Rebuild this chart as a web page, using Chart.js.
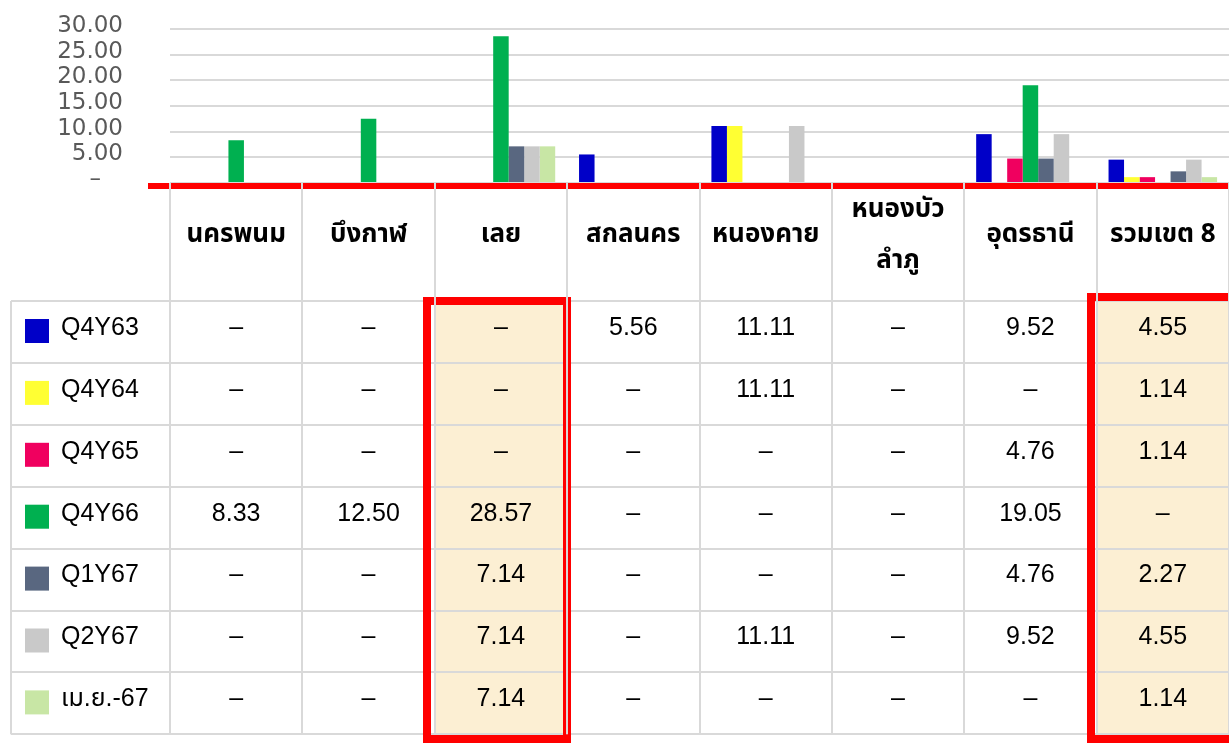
<!DOCTYPE html>
<html>
<head>
<meta charset="utf-8">
<script src="https://cdn.jsdelivr.net/npm/chart.js@4"></script>
<style>
  html, body { margin: 0; padding: 0; background: #fff; overflow: hidden; }
  #wrap { width: 1229px; height: 743px; position: relative; }
</style>
</head>
<body>
<div id="wrap"><canvas id="chart"></canvas></div>
<script>
// categories (provinces) and series (periods)
const provinces = ['นครพนม', 'บึงกาฬ', 'เลย', 'สกลนคร', 'หนองคาย', ['หนองบัว', 'ลำภู'], 'อุดรธานี', 'รวมเขต 8'];
const periods = ['Q4Y63', 'Q4Y64', 'Q4Y65', 'Q4Y66', 'Q1Y67', 'Q2Y67', 'เม.ย.-67'];

const q4y63 = [0, 0, 0, 5.56, 11.11, 0, 9.52, 4.55];
const q4y64 = [0, 0, 0, 0, 11.11, 0, 0, 1.14];
const q4y65 = [0, 0, 0, 0, 0, 0, 4.76, 1.14];
const q4y66 = [8.33, 12.50, 28.57, 0, 0, 0, 19.05, 0];
const q1y67 = [0, 0, 7.14, 0, 0, 0, 4.76, 2.27];
const q2y67 = [0, 0, 7.14, 0, 11.11, 0, 9.52, 4.55];
const apr67 = [0, 0, 7.14, 0, 0, 0, 0, 1.14];

const yMax = 30;
const yStep = 5;

const seriesValues = [q4y63, q4y64, q4y65, q4y66, q1y67, q2y67, apr67];
const seriesColors = ['#0000c8', '#ffff33', '#f0005f', '#00b050', '#596780', '#c9c9c9', '#c8e6a5'];
const highlighted = [2, 7]; // เลย, รวมเขต 8

const THAI = "'Noto Sans Thai', 'Noto Sans Thai Looped', 'Leelawadee UI', Tahoma, 'Noto Sans', 'DejaVu Sans', sans-serif";
const NUM = "'Liberation Sans', Arial, sans-serif";

function fmt(v) {
  return v === 0 ? '–' : v.toFixed(2);
}

// table geometry (below the plot)
const tableTop = 301;
const rowH = 61.9;
const tableLeft = 11;

const dataTable = {
  id: 'dataTable',
  afterDraw(chart) {
    const ctx = chart.ctx;
    const x = chart.scales.x;
    const area = chart.chartArea;
    const colW = (area.right - area.left) / provinces.length;
    const tableBottom = tableTop + rowH * periods.length;
    ctx.save();

    // beige fill for highlighted columns
    ctx.fillStyle = '#fcefd3';
    highlighted.forEach(i => {
      const l = area.left + colW * i;
      ctx.fillRect(l, tableTop, colW, tableBottom - tableTop);
    });

    // horizontal rule lines
    ctx.fillStyle = '#d9d9d9';
    for (let r = 0; r <= periods.length; r++) {
      const y = Math.round(tableTop + rowH * r);
      ctx.fillRect(tableLeft, y - 1, chart.width - tableLeft, 2);
    }

    // red line under the plot
    ctx.fillStyle = '#ff0000';
    ctx.fillRect(148, area.bottom, chart.width - 148, 6);

    // red boxes round highlighted columns
    ctx.strokeStyle = '#ff0000';
    ctx.lineWidth = 8;
    ctx.strokeRect(427, 301, 140, 438);
    ctx.strokeRect(1091, 297, 144, 442);

    // vertical rule lines
    ctx.fillStyle = '#d9d9d9';
    for (let i = 0; i <= provinces.length; i++) {
      const xx = Math.round(area.left + colW * i);
      ctx.fillRect(xx - 1, area.bottom, 2, tableBottom - area.bottom);
    }
    ctx.fillRect(tableLeft - 1, tableTop, 2, tableBottom - tableTop);

    // header labels
    ctx.fillStyle = '#000';
    ctx.textAlign = 'center';
    ctx.textBaseline = 'middle';
    ctx.font = 'bold 26px ' + THAI;
    provinces.forEach((p, i) => {
      const cx = x.getPixelForValue(i);
      if (Array.isArray(p)) {
        ctx.fillText(p[0], cx, 212);
        ctx.fillText(p[1], cx, 263);
      } else {
        ctx.fillText(p, cx, 237);
      }
    });

    // rows: legend key, label, values
    periods.forEach((name, r) => {
      const top = tableTop + rowH * r;
      const cy = top + rowH / 2 - 4;
      ctx.fillStyle = seriesColors[r];
      ctx.fillRect(25, top + 18, 24, 24);
      ctx.fillStyle = '#000';
      ctx.textAlign = 'left';
      ctx.font = '25px ' + NUM + ', ' + THAI;
      ctx.fillText(name, 61, cy);
      ctx.textAlign = 'center';
      seriesValues[r].forEach((v, i) => {
        ctx.fillText(fmt(v), x.getPixelForValue(i), cy);
      });
    });

    ctx.restore();
  }
};

new Chart(document.getElementById('chart'), {
  type: 'bar',
  data: {
    labels: provinces,
    datasets: periods.map((p, i) => ({
      label: p,
      data: seriesValues[i],
      backgroundColor: seriesColors[i],
      borderWidth: 0,
      categoryPercentage: 0.82,
      barPercentage: 1.0
    }))
  },
  options: {
    responsive: true,
    maintainAspectRatio: false,
    animation: false,
    layout: { padding: { top: 29, bottom: 560, left: 0, right: 0 } },
    plugins: {
      legend: { display: false },
      tooltip: { enabled: false }
    },
    scales: {
      x: { display: false },
      y: {
        min: 0,
        max: yMax,
        afterFit(scale) { scale.width = 170; },
        border: { display: false },
        grid: { color: '#d9d9d9', lineWidth: 2, drawTicks: true, tickLength: 47, tickColor: 'rgba(0,0,0,0)' },
        ticks: {
          stepSize: yStep,
          autoSkip: false,
          padding: 0,
          labelOffset: -3,
          color: '#595959',
          font: { family: "'DejaVu Sans'", size: 23 },
          callback: v => v === 0 ? '–   ' : v.toFixed(2)
        }
      }
    }
  },
  plugins: [dataTable]
});
</script>
</body>
</html>
